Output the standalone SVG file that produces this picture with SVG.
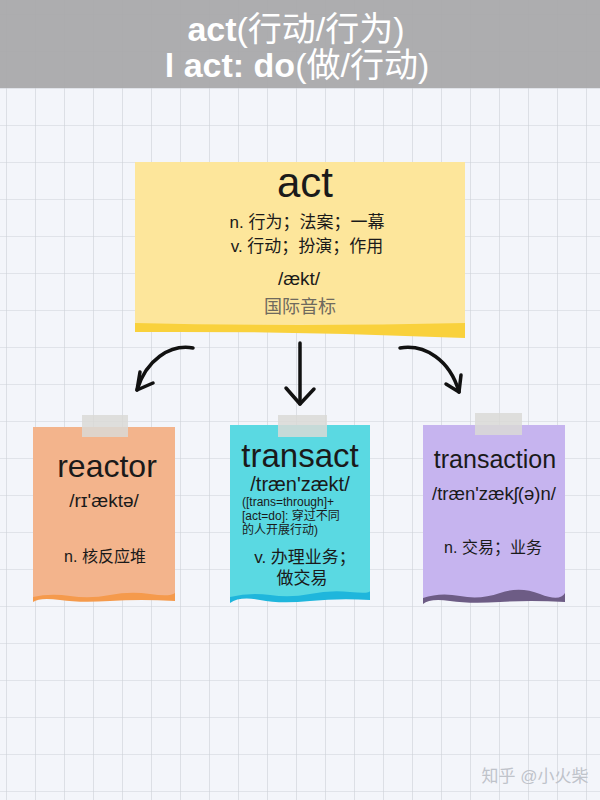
<svg xmlns="http://www.w3.org/2000/svg" width="600" height="800" viewBox="0 0 600 800">
<defs>
<pattern id="grid" x="6" y="14" width="29" height="37" patternUnits="userSpaceOnUse">
<rect width="29" height="37" fill="#f3f5fa"/>
<path d="M0,0 V37 M0,0 H29" stroke="#cdd1d8" stroke-width="1.2" fill="none"/>
</pattern>
</defs>
<style>
.s{font-family:"Liberation Sans","Noto Sans CJK SC",sans-serif;fill:#1a1a1a;text-anchor:middle}
.l{text-anchor:start}
.title{font-family:"Liberation Sans","Noto Sans CJK SC",sans-serif;fill:#ffffff;text-anchor:middle;font-size:34px}
.arrow{fill:none;stroke:#111;stroke-width:3.5;stroke-linecap:round;stroke-linejoin:round}
.tape{fill:#d9d9d6;opacity:0.85}
</style>
<rect width="600" height="800" fill="url(#grid)"/>

<g id="title">
<rect x="0" y="0" width="600" height="88" fill="#a9a9ab" opacity="0.95"/>
<text class="title" x="296" y="41"><tspan font-weight="700">act</tspan><tspan font-weight="400">(行动/行为)</tspan></text>
<text class="title" x="297" y="77"><tspan font-weight="700">l act: do</tspan><tspan font-weight="400">(做/行动)</tspan></text>
</g>

<g id="act">
<path d="M135,162 L465,162 L465,337 Q300,330 135,331 Z" fill="#fde69b"/>
<path d="M135,323 Q300,327 465,323 L465,338 Q300,331 135,332 Z" fill="#f9d13c"/>
<text class="s" x="305" y="197" font-size="42">act</text>
<text class="s" x="307" y="228" font-size="17">n. 行为；法案；一幕</text>
<text class="s" x="307" y="252" font-size="17">v. 行动；扮演；作用</text>
<text class="s" x="299" y="285" font-size="19">/ækt/</text>
<text class="s" x="300" y="313" font-size="18" style="fill:#6f6a5e">国际音标</text>
</g>

<g id="connectors">
<path class="arrow" d="M193,348 C170,344 146,360 137,390"/>
<path class="arrow" d="M140,372 L137,390 L153,383"/>
<path class="arrow" d="M300,343 L300,404"/>
<path class="arrow" d="M286,388 L300,404 L314,389"/>
<path class="arrow" d="M400,348 C425,344 450,360 459,392"/>
<path class="arrow" d="M446,384 L459,392 L461,375"/>
</g>

<g id="reactor">
<rect x="33" y="427" width="142" height="171" fill="#f3b48c"/>
<path d="M33,597 Q50,593 70,596 T110,595 T150,594 T175,593 L175,601 Q140,599 110,601 T60,600 T33,602 Z" fill="#f59a4c"/>
<rect class="tape" x="82" y="415" width="46" height="22"/>
<text class="s" x="107" y="477" font-size="32">reactor</text>
<text class="s" x="104" y="507" font-size="19">/rɪ'æktə/</text>
<text class="s" x="105" y="562" font-size="16">n. 核反应堆</text>
</g>

<g id="transact">
<rect x="230" y="425" width="140" height="173" fill="#5ad9e2"/>
<path d="M230,597 Q250,592 270,595 T310,594 T350,592 T370,591 L370,600 Q340,598 310,601 T260,600 T230,603 Z" fill="#1fb6dc"/>
<rect class="tape" x="278" y="415" width="49" height="22"/>
<text class="s" x="300" y="467" font-size="33">transact</text>
<text class="s" x="300" y="491" font-size="20">/træn'zækt/</text>
<text class="s l" x="242" y="506" font-size="12"><tspan x="242" y="506">([trans=through]+</tspan><tspan x="242" y="520">[act=do]: 穿过不同</tspan><tspan x="242" y="534">的人开展行动)</tspan></text>
<text class="s" x="305" y="563" font-size="17">v. 办理业务；</text>
<text class="s" x="302" y="584" font-size="17">做交易</text>
</g>

<g id="transaction">
<rect x="423" y="425" width="142" height="173" fill="#c6b4ef"/>
<path d="M423,598 Q440,592 460,596 T500,593 T540,594 T565,593 L565,602 Q530,600 500,602 T450,601 T423,604 Z" fill="#6d5c85"/>
<rect class="tape" x="475" y="413" width="47" height="22"/>
<text class="s" x="495" y="468" font-size="25">transaction</text>
<text class="s" x="494" y="500" font-size="18.5">/træn'zækʃ(ə)n/</text>
<text class="s" x="493" y="553" font-size="16">n. 交易；业务</text>
</g>

<g id="watermark">
<text class="s" x="535" y="782" font-size="17" style="fill:#bfc3ca">知乎 @小火柴</text>
</g>
</svg>
